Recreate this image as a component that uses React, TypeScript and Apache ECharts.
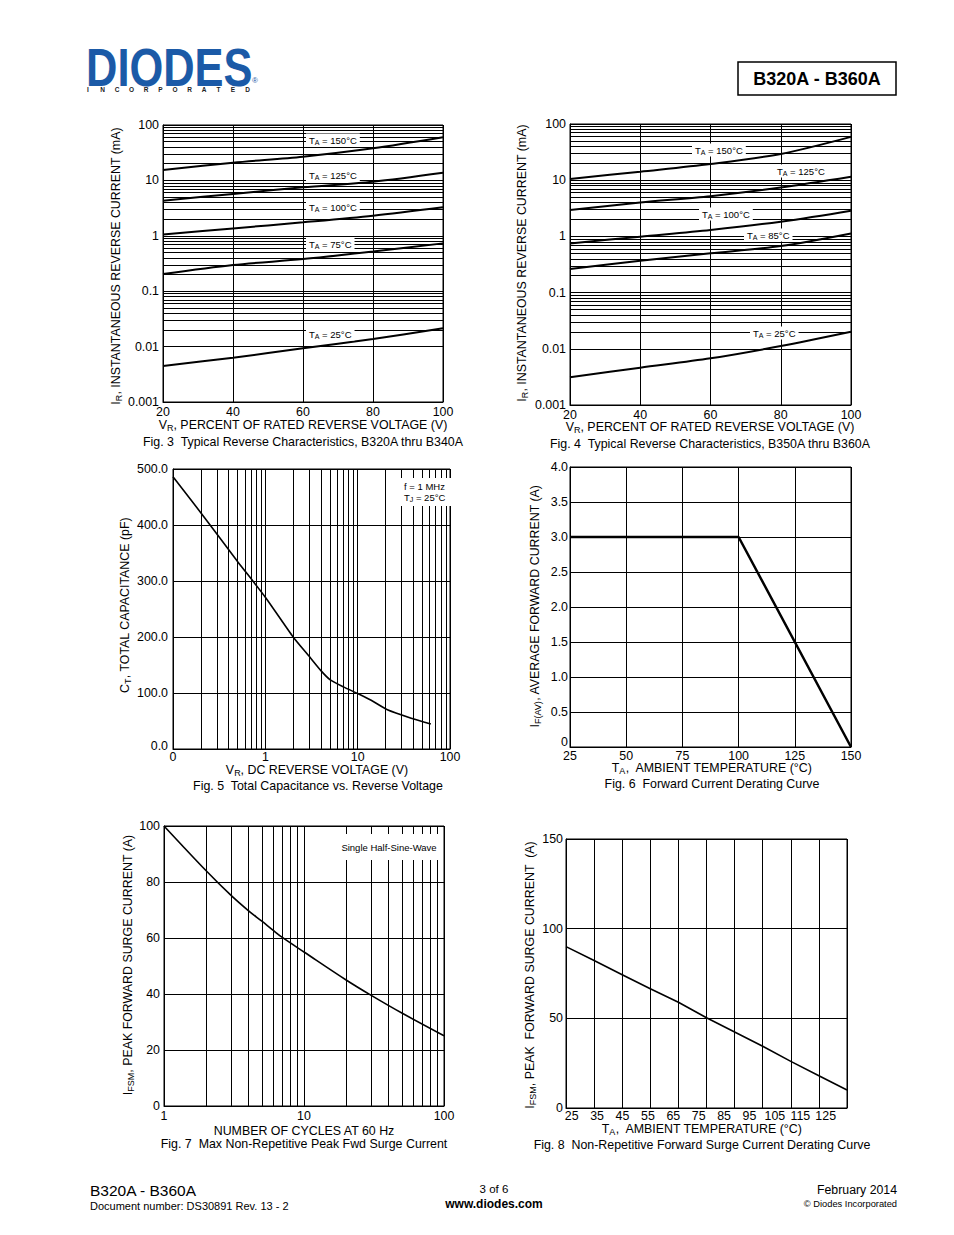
import React, { useEffect, useRef } from 'react';
import * as echarts from 'echarts';

// ---------- data ----------
const F3_X = [20, 40, 60, 80, 100];
const F3_150 = [15.4, 20.9, 26.8, 37.9, 60];
const F3_125 = [4.3, 5.7, 7.5, 9.5, 13.8];
const F3_100 = [1.06, 1.36, 1.75, 2.3, 3.27];
const F3_75 = [0.204, 0.297, 0.38, 0.52, 0.73];
const F3_25 = [0.00447, 0.0063, 0.0093, 0.0137, 0.0214];

const F4_X = [20, 40, 60, 80, 100];
const F4_150 = [10.5, 14.2, 19.4, 29.3, 59];
const F4_125 = [2.95, 4.0, 5.2, 7.4, 11.5];
const F4_100 = [0.75, 0.99, 1.3, 1.83, 2.87];
const F4_85 = [0.263, 0.37, 0.5, 0.675, 1.13];
const F4_25 = [0.00311, 0.00461, 0.00676, 0.0112, 0.0201];

const LOG_TICK_LABELS = ['0.001', '0.01', '0.1', '1', '10', '100'];

const F5_V = [0.1, 0.2, 0.5, 1, 2, 3, 4, 5, 7, 10, 14, 21, 38, 62];
const F5_C = [486, 422, 335, 271, 200, 165, 140, 124, 111, 99, 87, 70, 55, 44.6];

const F6_T = [25, 100, 150];
const F6_I = [3, 3, 0];

const F7_N = [1, 2, 3, 4, 5, 6, 7, 10, 20, 30, 50, 100];
const F7_I = [100, 84, 75.3, 69.8, 66, 62.8, 60.2, 55, 45, 39.6, 33.2, 25.1];

const F8_T = [25, 35, 45, 55, 65, 75, 85, 95, 105, 115, 125];
const F8_I = [90, 82.2, 74.3, 66.5, 59, 50.3, 42.4, 34.4, 26, 18, 10];

// ---------- helpers ----------
const FONT = '"Liberation Sans", Arial, Helvetica, sans-serif';
const INC = 'INCORPORATED'.split('');

function minorLog(e0: number, e1: number): number[] {
  const out: number[] = [];
  for (let e = e0; e < e1; e++) {
    for (let m = 2; m <= 9; m++) out.push(+(m * Math.pow(10, e)).toPrecision(6));
  }
  return out;
}

const lbl = (extra: any = {}) => ({ color: '#000', fontFamily: FONT, fontSize: 12.4, ...extra });

const axis = (gridIndex: number, extra: any) => ({
  gridIndex,
  axisLine: { show: true, onZero: false, lineStyle: { color: '#000', width: 1 } },
  axisTick: { show: false },
  splitLine: { show: true, lineStyle: { color: '#000', width: 1 } },
  ...extra,
});

const logFmt = (v: number) => LOG_TICK_LABELS[Math.round(Math.log10(v)) + 3] ?? '';
const ZERO_UP = { z: { fontSize: 12.4, fontFamily: FONT, color: '#000', padding: [0, 0, 7, 0] } };

const curve = (idx: number, xs: any[], ys: number[], width: number, extra: any = {}) => ({
  type: 'line',
  xAxisIndex: idx,
  yAxisIndex: idx,
  data: xs.map((x, i) => [x, ys[i]]),
  symbol: 'none',
  silent: true,
  smooth: 0.3,
  lineStyle: { color: '#000', width },
  z: 5,
  ...extra,
});

const mline = (axisKey: 'xAxis' | 'yAxis', values: number[]) => ({
  silent: true,
  symbol: ['none', 'none'],
  label: { show: false },
  emphasis: { disabled: true },
  lineStyle: { color: '#000', width: 1, type: 'solid' },
  data: values.map((v) => ({ [axisKey]: v })),
});

const T = (x: number, y: number, text: string, style: any = {}, el: any = {}) => ({
  type: 'text',
  x,
  y,
  z: 100,
  silent: true,
  ...el,
  style: {
    text,
    fill: '#000',
    fontFamily: FONT,
    fontSize: 12.4,
    align: 'center',
    verticalAlign: 'middle',
    ...style,
  },
});

const SUB = { s: { fontSize: 9, padding: [6, 0, 0, 0], fontFamily: FONT } };
const TAG_RICH = {
  t: { fontSize: 9.5, fontFamily: FONT },
  s: { fontSize: 7, padding: [4, 0, 0, 0], fontFamily: FONT },
};
const tag = (x: number, y: number, temp: string) =>
  T(x - 3, y, `{t|T}{s|A}{t| = ${temp}°C}`, {
    align: 'left',
    rich: TAG_RICH,
    backgroundColor: '#fff',
    padding: [1, 3, 1, 3],
  });

function buildOption(): any {
  const grids = [
    { left: 163, top: 125, width: 280, height: 277 },
    { left: 570, top: 124, width: 281, height: 281 },
    { left: 173, top: 469, width: 277, height: 280 },
    { left: 570, top: 467, width: 281, height: 280 },
    { left: 164, top: 826, width: 280, height: 280 },
    { left: 566, top: 839, width: 281, height: 269 },
    { left: 571.7, top: 839, width: 254, height: 269, show: false },
  ].map((g: any) => ({ show: true, borderColor: '#000', borderWidth: 1, backgroundColor: 'transparent', ...g }));

  const xAxis = [
    axis(0, { type: 'value', min: 20, max: 100, interval: 20, axisLabel: lbl({ margin: 4 }) }),
    axis(1, { type: 'value', min: 20, max: 100, interval: 20, axisLabel: lbl({ margin: 4 }) }),
    axis(2, {
      type: 'log', logBase: 10, min: 0.1, max: 100,
      axisLabel: lbl({ margin: 2, formatter: (v: number) => (v < 0.5 ? '0' : String(Math.round(v))) }),
    }),
    axis(3, { type: 'value', min: 25, max: 150, interval: 25, axisLabel: lbl({ margin: 3 }) }),
    axis(4, {
      type: 'log', logBase: 10, min: 1, max: 100,
      axisLabel: lbl({ margin: 4, formatter: (v: number) => String(Math.round(v)) }),
    }),
    axis(5, {
      type: 'category', data: F8_T.map(String), boundaryGap: false,
      axisLabel: { show: false },
      splitLine: { show: true, interval: 0, lineStyle: { color: '#000', width: 1 } },
    }),
    axis(6, {
      type: 'category', data: F8_T.map(String), boundaryGap: false,
      axisLine: { show: false }, splitLine: { show: false },
      axisLabel: lbl({ margin: 2, interval: 0 }),
    }),
  ];

  const yAxis = [
    axis(0, { type: 'log', logBase: 10, min: 0.001, max: 100, axisLabel: lbl({ margin: 4, formatter: logFmt }) }),
    axis(1, { type: 'log', logBase: 10, min: 0.001, max: 100, axisLabel: lbl({ margin: 4, formatter: logFmt }) }),
    axis(2, {
      type: 'value', min: 0, max: 500, interval: 100,
      axisLabel: lbl({
        margin: 5,
        rich: ZERO_UP,
        formatter: (v: number) => (v === 0 ? '{z|0.0}' : v.toFixed(1)),
      }),
    }),
    axis(3, {
      type: 'value', min: 0, max: 4, interval: 0.5,
      axisLabel: lbl({
        margin: 2,
        formatter: (v: number) => (v === 0 ? '' : v.toFixed(1)),
      }),
    }),
    axis(4, { type: 'value', min: 0, max: 100, interval: 20, axisLabel: lbl({ margin: 4 }) }),
    axis(5, { type: 'value', min: 0, max: 150, interval: 50, axisLabel: lbl({ margin: 3 }) }),
    { gridIndex: 6, type: 'value', min: 0, max: 1, show: false },
  ];

  const series: any[] = [
    curve(0, F3_X, F3_150, 2, { markLine: mline('yAxis', minorLog(-3, 2)) }),
    curve(0, F3_X, F3_125, 2),
    curve(0, F3_X, F3_100, 2),
    curve(0, F3_X, F3_75, 2),
    curve(0, F3_X, F3_25, 2),
    curve(1, F4_X, F4_150, 2, { markLine: mline('yAxis', minorLog(-3, 2)) }),
    curve(1, F4_X, F4_125, 2),
    curve(1, F4_X, F4_100, 2),
    curve(1, F4_X, F4_85, 2),
    curve(1, F4_X, F4_25, 2),
    curve(2, F5_V, F5_C, 1.6, { smooth: 0.2, markLine: mline('xAxis', minorLog(-1, 2)) }),
    curve(3, F6_T, F6_I, 2.5, { smooth: false }),
    curve(4, F7_N, F7_I, 1.6, { smooth: 0.35, markLine: mline('xAxis', minorLog(0, 2)) }),
    curve(5, F8_T.map(String), F8_I, 1.6, { smooth: false }),
  ];

  const graphic: any[] = [
    // header logo
    T(86, 67, 'DIODES', { align: 'left', fontSize: 53, fontWeight: 'bold', fill: '#1b5aa7' }, { scaleX: 0.82 }),
    T(255, 80, '®', { fontSize: 8, fill: '#1b5aa7' }),
    ...INC.map((c, i) => T(88 + i * 14.5, 89, c, { fontSize: 6.5, fontWeight: 'bold', fill: '#222' })),
    {
      type: 'rect', z: 100, silent: true,
      shape: { x: 738, y: 62, width: 158, height: 33 },
      style: { fill: 'none', stroke: '#000', lineWidth: 1.5 },
    },
    T(817, 79, 'B320A - B360A', { fontSize: 18, fontWeight: 'bold' }),

    // fig 3
    T(116, 266, 'I{s|R}, INSTANTANEOUS REVERSE CURRENT (mA)', { rich: SUB }, { rotation: Math.PI / 2 }),
    T(303, 425, 'V{s|R}, PERCENT OF RATED REVERSE VOLTAGE (V)', { rich: SUB }),
    T(303, 442, 'Fig. 3  Typical Reverse Characteristics, B320A thru B340A', { fontSize: 12.4 }),
    tag(309, 140, '150'),
    tag(309, 175, '125'),
    tag(309, 207, '100'),
    tag(309, 244.5, '75'),
    tag(309, 334, '25'),

    // fig 4
    T(522, 263, 'I{s|R}, INSTANTANEOUS REVERSE CURRENT (mA)', { rich: SUB }, { rotation: Math.PI / 2 }),
    T(710, 427, 'V{s|R}, PERCENT OF RATED REVERSE VOLTAGE (V)', { rich: SUB }),
    T(710, 444, 'Fig. 4  Typical Reverse Characteristics, B350A thru B360A', { fontSize: 12.4 }),
    tag(695, 150, '150'),
    tag(777, 171, '125'),
    tag(702, 214, '100'),
    tag(747, 235, '85'),
    tag(753, 333, '25'),

    // fig 5
    T(125, 605, 'C{s|T}, TOTAL CAPACITANCE (pF)', { rich: SUB }, { rotation: Math.PI / 2 }),
    T(317, 770, 'V{s|R}, DC REVERSE VOLTAGE (V)', { rich: SUB }),
    T(318, 786, 'Fig. 5  Total Capacitance vs. Reverse Voltage', { fontSize: 12.4 }),
    T(387, 492, '{t|f = 1 MHz}\n{t|T}{s|J}{t| = 25°C}', {
      align: 'left',
      rich: {
        t: { fontSize: 9.5, fontFamily: FONT, lineHeight: 11 },
        s: { fontSize: 7, padding: [4, 0, 0, 0], fontFamily: FONT },
      },
      backgroundColor: '#fff',
      padding: [3, 9, 3, 17],
    }),

    // fig 6
    T(568, 741.5, '0', { align: 'right' }),
    T(535, 606, 'I{s|F(AV)}, AVERAGE FORWARD CURRENT (A)', { rich: SUB }, { rotation: Math.PI / 2 }),
    T(712, 768, 'T{s|A},  AMBIENT TEMPERATURE (°C)', { rich: SUB }),
    T(712, 784, 'Fig. 6  Forward Current Derating Curve', { fontSize: 12.4 }),

    // fig 7
    T(128, 965, 'I{s|FSM}, PEAK FORWARD SURGE CURRENT (A)', { rich: SUB }, { rotation: Math.PI / 2 }),
    T(304, 1131, 'NUMBER OF CYCLES AT 60 Hz'),
    T(304, 1144, 'Fig. 7  Max Non-Repetitive Peak Fwd Surge Current', { fontSize: 12.4 }),
    T(389, 847, 'Single Half-Sine-Wave', {
      fontSize: 9.5, backgroundColor: '#fff', padding: [8, 4, 8, 4],
    }),

    // fig 8
    T(530, 975, 'I{s|FSM}, PEAK  FORWARD SURGE CURRENT  (A)', { rich: SUB }, { rotation: Math.PI / 2 }),
    T(702, 1129, 'T{s|A},  AMBIENT TEMPERATURE (°C)', { rich: SUB }),
    T(702, 1145, 'Fig. 8  Non-Repetitive Forward Surge Current Derating Curve', { fontSize: 12.4 }),

    // footer
    T(90, 1190, 'B320A - B360A', { align: 'left', fontSize: 15.5 }),
    T(90, 1206, 'Document number: DS30891 Rev. 13 - 2', { align: 'left', fontSize: 11 }),
    T(494, 1189, '3 of 6', { fontSize: 11.5 }),
    T(494, 1204, 'www.diodes.com', { fontSize: 12, fontWeight: 'bold' }),
    T(897, 1190, 'February 2014', { align: 'right', fontSize: 12.3 }),
    T(897, 1204, '© Diodes Incorporated', { align: 'right', fontSize: 9.3 }),
  ];

  return {
    animation: false,
    backgroundColor: '#fff',
    grid: grids,
    xAxis,
    yAxis,
    series,
    graphic,
  };
}

export default function App() {
  const ref = useRef<HTMLDivElement>(null);
  useEffect(() => {
    if (!ref.current) return;
    const chart = echarts.init(ref.current, null, { renderer: 'svg' });
    chart.setOption(buildOption());
    return () => chart.dispose();
  }, []);
  return (
    <div
      ref={ref}
      style={{ position: 'absolute', left: 0, top: 0, width: 954, height: 1235, background: '#fff' }}
    />
  );
}
